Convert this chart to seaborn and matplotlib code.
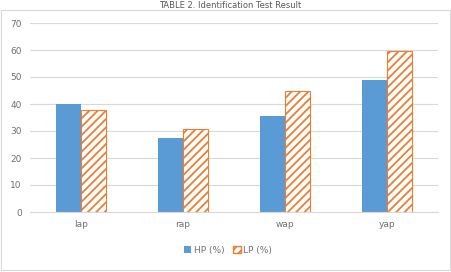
import pandas as pd
import seaborn as sns
import matplotlib
matplotlib.use('Agg')
import matplotlib.pyplot as plt
from matplotlib.patches import Rectangle

# podaci ocitani sa slike
words = ["lap", "rap", "wap", "yap"]
hp = [40.1, 27.5, 35.4, 49.0]
lp = [37.6, 30.7, 44.9, 59.7]
series = ["HP (%)", "LP (%)"]

df = pd.DataFrame({
    "word": words * 2,
    "value": hp + lp,
    "series": [series[0]] * len(words) + [series[1]] * len(words),
})

sns.set_style("white")
plt.rcParams['font.family'] = ['DejaVu Sans']
plt.rcParams['hatch.linewidth'] = 1.3

fig = plt.figure(figsize=(4.52, 2.72), dpi=100)
ax = fig.add_axes([30 / 452, 1 - 212 / 272, 408 / 452, 189 / 272])

sns.barplot(data=df, x="word", y="value", hue="series", ax=ax,
            palette=["#5B9BD5", "white"], width=0.49, saturation=1,
            legend=False)

# LP bars: orange diagonal hatch on white
n = len(words)
for i, p in enumerate(ax.patches):
    if n <= i < 2 * n:
        p.set_edgecolor("#ED7D31")
        p.set_hatch("////")
        p.set_linewidth(0.8)
    else:
        p.set_edgecolor("none")

ax.set_ylim(0, 70)
ax.set_yticks(range(0, 71, 10))
ax.yaxis.grid(True, color="#d9d9d9", linewidth=0.8)
ax.set_axisbelow(True)
for s in ["top", "right", "left"]:
    ax.spines[s].set_visible(False)
ax.spines["bottom"].set_color("#d9d9d9")
ax.tick_params(axis="both", length=0, colors="#707070", labelsize=6.5, pad=6)
ax.set_xlabel("")
ax.set_ylabel("")

# legend
h1 = Rectangle((0, 0), 1, 1, facecolor="#5B9BD5", edgecolor="none")
h2 = Rectangle((0, 0), 1, 1, facecolor="white", edgecolor="#ED7D31", hatch="////")
fig.legend([h1, h2], series, loc="center", bbox_to_anchor=(228 / 452, 1 - 250 / 272),
           ncol=2, frameon=False, fontsize=6.5, handlelength=0.8, handleheight=0.8,
           columnspacing=1.0, handletextpad=0.3, labelcolor="#707070")

# title and chart border
fig.text(230 / 452, 1 - 0.5 / 272, "TABLE 2. Identification Test Result", ha="center",
         va="top", fontsize=6, color="#595959")
fig.patches.append(Rectangle((1 / 452, 2 / 272), 449 / 452, 260 / 272,
                             transform=fig.transFigure, fill=False,
                             edgecolor="#d9d9d9", linewidth=0.8))

fig.savefig("out.png", dpi=100)
